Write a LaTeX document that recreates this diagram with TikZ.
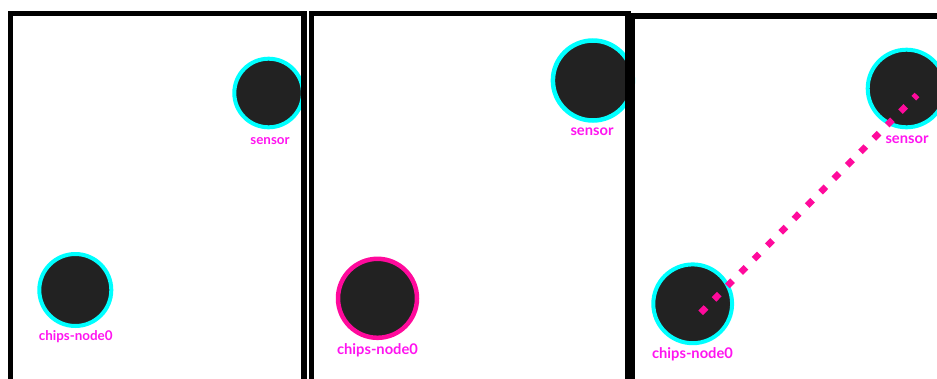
\documentclass[tikz,border=0pt]{standalone}
\usepackage{fontspec}
\setmainfont{Lato}
\definecolor{chipfill}{HTML}{222222}
\definecolor{ringcyan}{HTML}{00FFFF}
\definecolor{ringpink}{HTML}{FF0A9C}
\definecolor{tagpink}{HTML}{FF14F0}

\begin{document}
\begin{tikzpicture}[x=1pt, y=-1pt,
    chip/.style={circle, fill=chipfill, draw=ringcyan, line width=4pt, inner sep=0pt},
    picked/.style={chip, draw=ringpink},
    tag/.style={text=tagpink, font=\bfseries\fontsize{14.7}{15}\selectfont, inner sep=0pt},
    smalltag/.style={tag, font=\bfseries\fontsize{13.4}{14}\selectfont},
    link/.style={draw=ringpink, line width=6.5pt, dash pattern=on 7.5pt off 11.4pt},
    frame/.style={line width=5.5pt}]
    % Panel edges
    \def\panelOne{10.5}
    \def\panelTwo{311.3}
    \def\panelThree{632.5}

    % Canvas
    \clip (0,0) rectangle (937,378);
    \fill[white] (0,0) rectangle (937,378);

    % Panel 1
    \node[chip, minimum size=68.6pt] (s1) at (268.6,93) {};
    \node[smalltag] (s1tag) at (270,141) {sensor};
    \node[chip, minimum size=72pt] (c1) at (75.3,290) {};
    \node[smalltag] (c1tag) at (75.8,336.5) {chips-node0};

    % Panel 2 (chip selected)
    \node[chip, minimum size=80pt, line width=4.5pt] (s2) at (592.9,80.5) {};
    \node[tag] (s2tag) at (592,132) {sensor};
    \node[picked, minimum size=79pt, line width=4.5pt] (c2) at (377.5,298.3) {};
    \node[tag] (c2tag) at (377.5,350.5) {chips-node0};

    % Panel 3 (link)
    \node[chip, minimum size=77.6pt] (s3) at (906.5,88.5) {};
    \node[tag] (s3tag) at (907,139.7) {sensor};
    \node[chip, minimum size=78.8pt] (c3) at (692.7,303.8) {};
    \node[tag] (c3tag) at (692.5,354.7) {chips-node0};
    \draw[link] ([shift={(8,9)}]c3.center) -- ([shift={(10.5,6.5)}]s3.center);

    % Frames
    \draw[frame] (\panelOne,400) -- (\panelOne,13.5) -- (304,13.5) -- (304,400);
    \draw[frame] (\panelTwo,400) -- (\panelTwo,13.5) -- (628,13.5) -- (628,400);
    \draw[frame] (\panelThree,400) -- (\panelThree,15.8) -- (950,15.8);
\end{tikzpicture}
\end{document}
